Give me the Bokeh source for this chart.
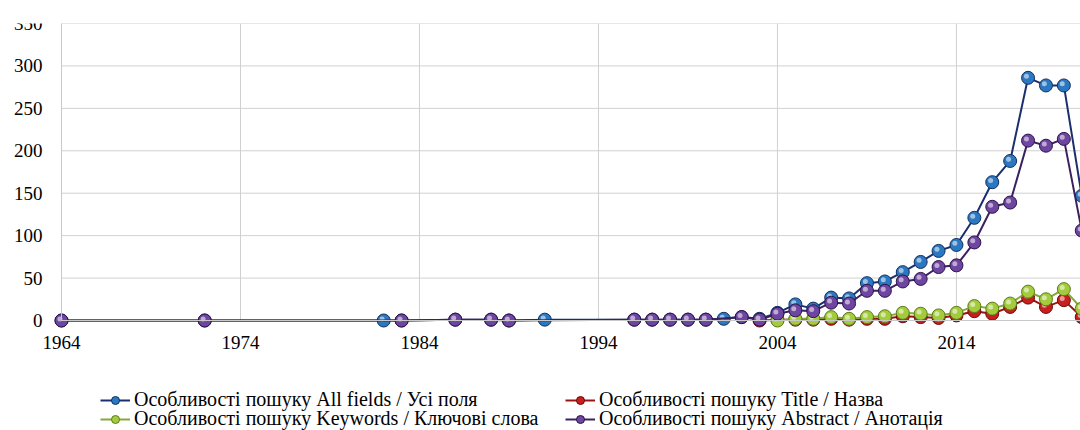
from bokeh.plotting import figure
from bokeh.models import FixedTicker, Range1d, Legend, LegendItem
from bokeh.embed import file_html
from bokeh.resources import INLINE

# ---- data ----
years_all = [1964, 1972, 1982, 1983, 1986, 1988, 1989, 1991, 1996, 1997, 1998, 1999, 2000,
             2001, 2002, 2003, 2004, 2005, 2006, 2007, 2008, 2009, 2010, 2011, 2012, 2013,
             2014, 2015, 2016, 2017, 2018, 2019, 2020, 2021]
all_fields = [0, 0, 0, 0, 1, 1, 0, 1, 1, 1, 1, 1, 1,
              2, 4, 2, 9, 19, 14, 27, 26, 44, 46, 57, 69, 82,
              89, 121, 163, 188, 286, 277, 277, 147]

years_abstract = [1964, 1972, 1983, 1986, 1988, 1989, 1996, 1997, 1998, 1999, 2000,
                  2002, 2003, 2004, 2005, 2006, 2007, 2008, 2009, 2010, 2011, 2012, 2013,
                  2014, 2015, 2016, 2017, 2018, 2019, 2020, 2021]
abstract = [0, 0, 0, 1, 1, 0, 1, 1, 1, 1, 1,
            4, 1, 8, 12, 11, 21, 20, 35, 35, 46, 49, 63,
            65, 92, 134, 139, 212, 206, 214, 106]

years_title = [2003, 2004, 2005, 2006, 2007, 2008, 2009, 2010, 2011, 2012, 2013,
               2014, 2015, 2016, 2017, 2018, 2019, 2020, 2021]
title = [0, 1, 1, 1, 2, 1, 2, 2, 5, 4, 3, 6, 11, 8, 16, 27, 16, 24, 4]

years_keywords = [2004, 2005, 2006, 2007, 2008, 2009, 2010, 2011, 2012, 2013,
                  2014, 2015, 2016, 2017, 2018, 2019, 2020, 2021]
keywords = [0, 2, 2, 4, 2, 4, 5, 9, 8, 6, 9, 17, 14, 20, 34, 25, 37, 14]

x_ticks = [1964, 1974, 1984, 1994, 2004, 2014]
y_ticks = [0, 50, 100, 150, 200, 250, 300, 350]

labels = ["Особливості пошуку All fields / Усі поля",
          "Особливості пошуку Title / Назва",
          "Особливості пошуку Keywords / Ключові слова",
          "Особливості пошуку Abstract / Анотація"]

FONT = "Liberation Serif"

# The frame fills the whole page; the value area is 0..350 starting at 1964,
# axes are pinned at (1964, 0) and the legend sits in the strip below.
X_START, X_END = 1964, 2020.93
Y_TOP = 350
LEFT_PX, PLOT_W_PX = 61, 1019
PLOT_PX, EXTRA_PX = 297, 110
x_left = X_START - (X_END - X_START) * LEFT_PX / PLOT_W_PX
y_bottom = -Y_TOP * EXTRA_PX / PLOT_PX

p = figure(width=1080, height=430, output_backend="svg", toolbar_location=None,
           x_range=Range1d(x_left, X_END), y_range=Range1d(y_bottom, Y_TOP),
           min_border_left=0, min_border_right=0, min_border_top=23,
           min_border_bottom=0)
p.outline_line_color = None

p.xaxis.ticker = FixedTicker(ticks=x_ticks)
p.yaxis.ticker = FixedTicker(ticks=y_ticks)
for ax in (p.xaxis, p.yaxis):
    ax.major_tick_line_color = None
    ax.minor_tick_line_color = None
    ax.axis_line_color = "#c8c8c8"
    ax.major_label_text_font = FONT
    ax.major_label_text_font_size = "19px"
    ax.major_label_text_color = "black"
p.yaxis.major_label_standoff = 13
p.yaxis.bounds = (0, Y_TOP)
p.yaxis.fixed_location = X_START
p.xaxis.major_label_standoff = 9
p.xaxis.bounds = (X_START, X_END + 1)
p.xaxis.fixed_location = 0

p.xgrid.visible = False
p.ygrid.visible = False
# gridlines only across the value area
p.segment(x0=x_ticks, y0=[0] * len(x_ticks), x1=x_ticks, y1=[Y_TOP] * len(x_ticks),
          line_color="#d0d0d0", line_width=1)
p.segment(x0=[X_START] * len(y_ticks), y0=y_ticks, x1=[X_END + 1] * len(y_ticks),
          y1=y_ticks, line_color="#d0d0d0", line_width=1)

series = [
    (years_all, all_fields, "#1b2f6e", "#2b78c2", "#12305e"),
    (years_title, title, "#9a1414", "#c81e1e", "#6a0c0c"),
    (years_keywords, keywords, "#86a83a", "#a3cc3c", "#5f7a1c"),
    (years_abstract, abstract, "#3a2160", "#6e45a0", "#2a1448"),
]

items = []
for (xs, ys, lc, fc, oc), lab in zip(series, labels):
    lr = p.line(xs, ys, line_color=lc, line_width=2)
    sr = p.scatter(xs, ys, size=13, fill_color=fc, line_color=oc, line_width=1)
    # glossy highlight on each ball
    p.scatter([x - 0.09 for x in xs], [y + 1.9 for y in ys], size=5,
              fill_color="white", fill_alpha=0.55, line_color=None)
    items.append(LegendItem(label=lab, renderers=[lr, sr]))


def make_row(row_items, loc):
    return Legend(items=row_items, orientation="horizontal", location=loc,
                  label_text_font=FONT, label_text_font_size="20px",
                  label_text_color="black", label_width=426,
                  glyph_width=30, glyph_height=20, label_height=20,
                  spacing=5, padding=0, margin=0, label_standoff=4,
                  border_line_color=None, background_fill_alpha=0)


p.add_layout(make_row([items[0], items[1]], (100, 19)))
p.add_layout(make_row([items[2], items[3]], (100, 0)))

open("out.html", "w").write(file_html(p, INLINE))
